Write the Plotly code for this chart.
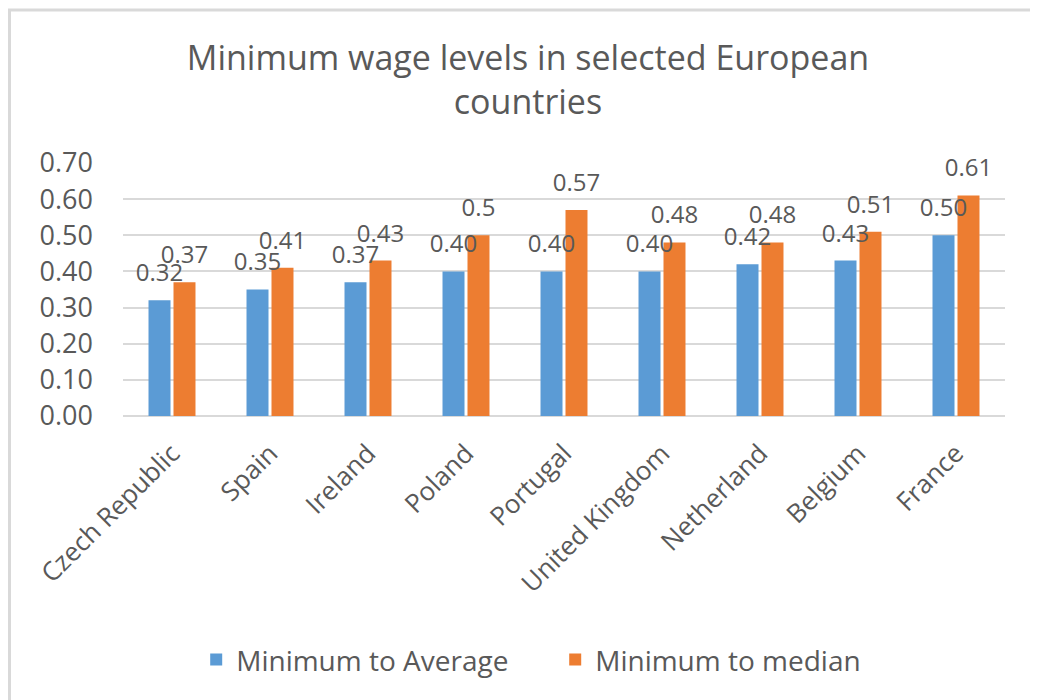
import plotly.graph_objects as go

countries = ["Czech Republic", "Spain", "Ireland", "Poland", "Portugal",
             "United Kingdom", "Netherland", "Belgium", "France"]
min_to_average = [0.32, 0.35, 0.37, 0.40, 0.40, 0.40, 0.42, 0.43, 0.50]
min_to_median = [0.37, 0.41, 0.43, 0.5, 0.57, 0.48, 0.48, 0.51, 0.61]
y_ticks = [0.0, 0.1, 0.2, 0.3, 0.4, 0.5, 0.6, 0.7]

FONT = "Open Sans"
GREY = "#595959"
BLUE = "#5B9BD5"
ORANGE = "#ED7D31"

series = [
    ("Minimum to Average", min_to_average, BLUE, [f"{v:.2f}" for v in min_to_average]),
    ("Minimum to median", min_to_median, ORANGE, [str(v) for v in min_to_median]),
]

fig = go.Figure()
# real bars
for name, vals, col, _ in series:
    fig.add_trace(go.Bar(
        name=name, x=countries, y=vals,
        marker=dict(color=col, line=dict(width=0)),
        hoverinfo="x+y",
    ))
# label layer drawn above all bars (transparent duplicates on overlaying axes)
for name, vals, col, labels in series:
    fig.add_trace(go.Bar(
        name=name, x=countries, y=vals, xaxis="x2", yaxis="y2",
        marker=dict(color="rgba(0,0,0,0)", line=dict(width=0)),
        text=labels, textposition="outside", constraintext="none",
        textfont=dict(family=FONT, size=24, color=GREY), cliponaxis=False,
        showlegend=False, hoverinfo="skip",
    ))

W, H = 1030, 692
fig.update_layout(
    width=W, height=H,
    margin=dict(l=115, r=33, t=155, b=284),
    paper_bgcolor="white", plot_bgcolor="white",
    font=dict(family=FONT, color=GREY),
    title=dict(text="Minimum wage levels in selected European<br>countries",
               x=520 / W, xanchor="center", xref="container",
               y=1 - 62 / H, yanchor="middle", yref="container",
               font=dict(family=FONT, size=34, color=GREY)),
    barmode="group", bargap=0.49, bargroupgap=0.12,
    showlegend=True,
    legend=dict(orientation="h", x=0.083, xanchor="left", y=-0.964, yanchor="middle",
                font=dict(family=FONT, size=28, color=GREY), traceorder="normal",
                entrywidth=314, entrywidthmode="pixels", itemwidth=30),
    xaxis=dict(tickangle=-45, tickfont=dict(family=FONT, size=26, color=GREY),
               showgrid=False, showline=False, ticks="", ticklabelstandoff=16),
    yaxis=dict(range=[0, 0.7], tickvals=y_ticks, tickformat=".2f",
               tickfont=dict(family=FONT, size=27, color=GREY),
               showgrid=True, gridcolor="#D9D9D9", gridwidth=1.5,
               zeroline=True, zerolinecolor="#D9D9D9", zerolinewidth=1.5,
               showline=False, ticks="", ticklabelstandoff=29),
    xaxis2=dict(overlaying="x", matches="x", visible=False),
    yaxis2=dict(overlaying="y", range=[-0.025, 0.675], visible=False),
    shapes=[dict(type="rect", xref="paper", yref="paper",
                 x0=-0.1287, x1=1.2, y0=-1.5, y1=1.6047,
                 line=dict(color="#D9D9D9", width=3), fillcolor="rgba(0,0,0,0)",
                 layer="below")],
)

fig.write_html("out.html")
